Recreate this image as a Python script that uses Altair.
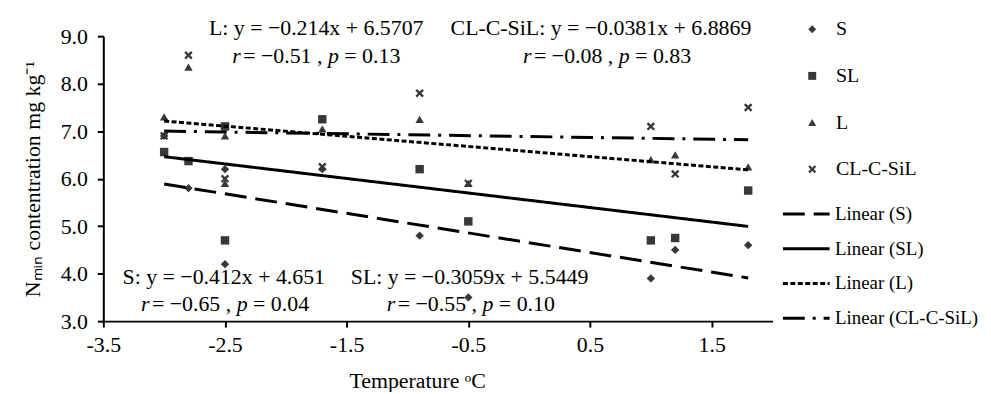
import altair as alt
import pandas as pd

# ---- data ----
temps = [-3.0, -2.8, -2.5, -2.5, -1.7, -0.9, -0.5, 1.0, 1.2, 1.8]
soil_S = [6.9, 5.8, 6.2, 4.2, 6.2, 4.8, 3.5, 3.9, 4.5, 4.6]
soil_SL = [6.56, 6.37, 7.1, 4.7, 7.25, 6.2, 5.1, 4.7, 4.75, 5.75]
soil_L = [7.3, 8.35, 6.9, 5.9, 7.05, 7.25, 5.9, 6.4, 6.5, 6.25]
soil_CL = [6.9, 8.6, 7.1, 6.0, 6.25, 7.8, 5.9, 7.1, 6.1, 7.5]

soils = ["S", "SL", "L", "CL-C-SiL"]
slopes = [-0.412, -0.3059, -0.214, -0.0381]
intercepts = [4.651, 5.5449, 6.5707, 6.8869]
line_labels = ["Linear (S)", "Linear (SL)", "Linear (L)", "Linear (CL-C-SiL)"]

eq_text = ["S: y = \u22120.412x + 4.651", "SL: y = \u22120.3059x + 5.5449",
           "L: y = \u22120.214x + 6.5707", "CL-C-SiL: y = \u22120.0381x + 6.8869"]
r_vals = ["\u22120.65", "\u22120.55", "\u22120.51", "\u22120.08"]
p_vals = ["0.04", "0.10", "0.13", "0.83"]
# annotation anchors (data coordinates, centre of each text line)
eq_x = [-2.51, -0.49, -1.75, 0.59]
eq_y = [3.92, 3.92, 9.18, 9.18]
st_x = [-2.50, -0.48, -1.75, 0.64]
st_y = [3.36, 3.36, 8.59, 8.59]

x_ticks = [-3.5, -2.5, -1.5, -0.5, 0.5, 1.5]
y_ticks = [3, 4, 5, 6, 7, 8, 9]

FONT = "Liberation Serif"
ANN_SIZE = 22
PLOT_W, PLOT_H = 674, 287
X_DOMAIN = [-3.5, 2.0]

# ---- tables ----
series = [soil_S, soil_SL, soil_L, soil_CL]
pts = pd.DataFrame([
    {"temp": t, "n": v, "soil": s}
    for s, vals in zip(soils, series) for t, v in zip(temps, vals)
])

rows = []
for lab, m, b in zip(line_labels, slopes, intercepts):
    for t in (min(temps), max(temps)):
        rows.append({"temp": t, "n": m * t + b, "fit": lab})
lines_df = pd.DataFrame(rows)

eq_df = pd.DataFrame([{"temp": x, "n": y, "txt": t}
                      for x, y, t in zip(eq_x, eq_y, eq_text)])

# statistics lines, split so that r and p can be italic
# (Times / Liberation Serif advance widths, in em)
W_REG = {" ": 0.25, "=": 0.564, "\u2212": 0.564, ".": 0.25, ",": 0.25}
W_IT = {"r": 0.389, "p": 0.5}


def width(s, italic=False):
    tab = W_IT if italic else W_REG
    return sum(tab.get(c, 0.5) for c in s) * ANN_SIZE


units_per_px = (X_DOMAIN[1] - X_DOMAIN[0]) / PLOT_W
GAP_S = 0.12 * ANN_SIZE   # small gap after italic r
GAP = 0.25 * ANN_SIZE     # word space
seg_rows = []
for cx, cy, r, p in zip(st_x, st_y, r_vals, p_vals):
    # (text, italic, gap after)
    segs = [("r", True, GAP_S), ("= " + r + " ,", False, GAP),
            ("p", True, GAP), ("= " + p, False, 0)]
    total = sum(width(s, it) + g for s, it, g in segs)
    pos = -total / 2
    for s, it, g in segs:
        seg_rows.append({"temp": cx + pos * units_per_px, "n": cy, "txt": s,
                         "style": "italic" if it else "normal"})
        pos += width(s, it) + g
seg_df = pd.DataFrame(seg_rows)

X_PATH = ("M-1,-0.6L-0.6,-1L0,-0.4L0.6,-1L1,-0.6L0.4,0L1,0.6L0.6,1L0,0.4"
          "L-0.6,1L-1,0.6L-0.4,0Z")
shapes = ["diamond", "square", "triangle-up", X_PATH]
dashes = [[22, 9], [1, 0], [5, 2.5], [22, 8, 3, 8]]

xscale = alt.Scale(domain=X_DOMAIN, nice=False, zero=False)
yscale = alt.Scale(domain=[3, 9], nice=False, zero=False)

points = alt.Chart(pts).mark_point(
    filled=True, opacity=1, size=72, color="#383838"
).encode(
    x=alt.X("temp:Q", scale=xscale,
            axis=alt.Axis(values=x_ticks, format=".1f", labelFlush=False,
                          labelExpr="replace(format(datum.value, '.1f'), '\u2212', '-')",
                          title="Temperature \u1d52C", titleX=316, titleY=60,
                          titleAnchor="start", titleAlign="center",
                          titleBaseline="middle", labelPadding=8)),
    y=alt.Y("n:Q", scale=yscale,
            axis=alt.Axis(values=y_ticks, format=".1f",
                          title="N\u2098\u1d62\u2099 contentration mg kg\u207b\u00b9",
                          labelPadding=10, titlePadding=16)),
    shape=alt.Shape("soil:N", scale=alt.Scale(domain=soils, range=shapes),
                    legend=alt.Legend(title=None, orient="none", legendX=704,
                                      legendY=-17, rowPadding=27, labelOffset=14,
                                      symbolSize=64, symbolFillColor="#383838",
                                      symbolStrokeWidth=0, padding=0,
                                      labelFont=FONT, labelFontSize=20,
                                      labelColor="black")),
)

lines = alt.Chart(lines_df).mark_line(color="black", strokeWidth=3).encode(
    x="temp:Q",
    y="n:Q",
    strokeDash=alt.StrokeDash(
        "fit:N", scale=alt.Scale(domain=line_labels, range=dashes),
        legend=alt.Legend(title=None, orient="none", legendX=683, legendY=154,
                          rowPadding=0, labelOffset=4, symbolType="stroke",
                          symbolSize=2209, symbolStrokeWidth=3,
                          symbolStrokeColor="black", padding=0,
                          labelFont=FONT, labelFontSize=19, labelColor="black")),
)

eq_layer = alt.Chart(eq_df).mark_text(
    font=FONT, fontSize=ANN_SIZE, color="black", align="center", baseline="middle"
).encode(x="temp:Q", y="n:Q", text="txt:N")

stat_regular = alt.Chart(seg_df).transform_filter(
    alt.datum.style == "normal"
).mark_text(
    font=FONT, fontSize=ANN_SIZE, color="black", align="left", baseline="middle"
).encode(x="temp:Q", y="n:Q", text="txt:N")

stat_italic = alt.Chart(seg_df).transform_filter(
    alt.datum.style == "italic"
).mark_text(
    font=FONT, fontSize=ANN_SIZE, fontStyle="italic", color="black",
    align="left", baseline="middle"
).encode(x="temp:Q", y="n:Q", text="txt:N")

chart = alt.layer(points, lines, eq_layer, stat_regular, stat_italic).properties(
    width=PLOT_W, height=PLOT_H,
    autosize=alt.AutoSizeParams(type="none"),
    padding={"left": 96, "top": 27, "right": 212, "bottom": 70},
).configure_view(stroke=None).configure_axis(
    grid=False, domainColor="black", domainWidth=2, tickColor="black",
    tickWidth=2, tickSize=6, labelColor="black", titleColor="black",
    labelFont=FONT, titleFont=FONT, labelFontSize=22, titleFontSize=22,
    titleFontWeight="normal",
)

chart.save("out.html", embed_options={"renderer": "svg", "actions": False})
